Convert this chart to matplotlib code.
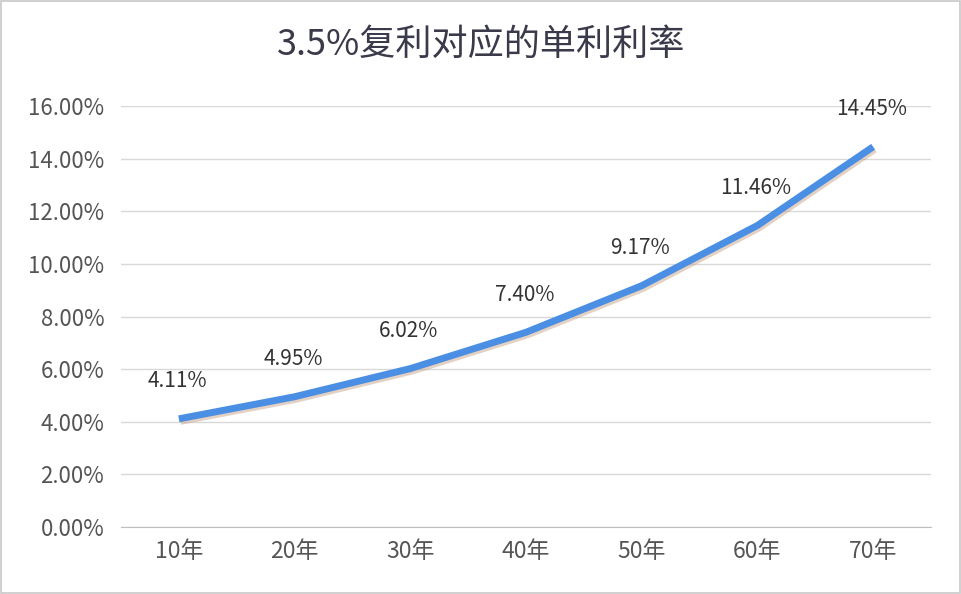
import matplotlib
matplotlib.use("Agg")
import matplotlib.pyplot as plt
import matplotlib.patheffects as pe
from matplotlib.ticker import FuncFormatter, MultipleLocator

plt.rcParams['font.family'] = ['Noto Sans CJK SC', 'DejaVu Sans']

categories = ["10年", "20年", "30年", "40年", "50年", "60年", "70年"]
values = [4.11, 4.95, 6.02, 7.40, 9.17, 11.46, 14.45]
title = "3.5%复利对应的单利利率"

fig = plt.figure(figsize=(9.62, 5.94), dpi=100)
fig.patch.set_facecolor("white")
ax = fig.add_axes([121/962, 1-527/594, (931-121)/962, (527-106)/594])

x = list(range(len(categories)))
ax.plot(x, values, color="#4A8FE3", lw=5, solid_capstyle="butt", zorder=3,
        path_effects=[pe.SimpleLineShadow(offset=(1.2, -1.8), shadow_color="#c8a48a", alpha=0.5),
                      pe.Normal()])

for xi, v in zip(x, values):
    ax.annotate(f"{v:.2f}%", (xi, v), xytext=(-1, 27), textcoords="offset points",
                ha="center", va="center", fontsize=15, color="#333333", zorder=4)

ax.set_xlim(-0.5, len(categories) - 0.5)
ax.set_ylim(0, 16)
ax.yaxis.set_major_locator(MultipleLocator(2))
ax.yaxis.set_major_formatter(FuncFormatter(lambda v, p: f"{v:.2f}%"))
ax.set_xticks(x)
ax.set_xticklabels(categories)
ax.tick_params(axis="both", length=0, labelsize=16, labelcolor="#555555")
ax.tick_params(axis="y", pad=12)
ax.tick_params(axis="x", labelsize=16.5, pad=9)
ax.grid(axis="y", color="#d9d9d9", lw=1)
ax.set_axisbelow(True)
for s in ["top", "right", "left"]:
    ax.spines[s].set_visible(False)
ax.spines["bottom"].set_color("#bfbfbf")

fig.text(0.5, 1-45/594, title, ha="center", va="center", fontsize=26, color="#3a3a4a")

border = plt.Rectangle((0.001, 0.002), 0.997, 0.996, transform=fig.transFigure,
                       fill=False, edgecolor="#c8c8c8", lw=1.2)
fig.add_artist(border)

fig.savefig("out.png", dpi=100)
